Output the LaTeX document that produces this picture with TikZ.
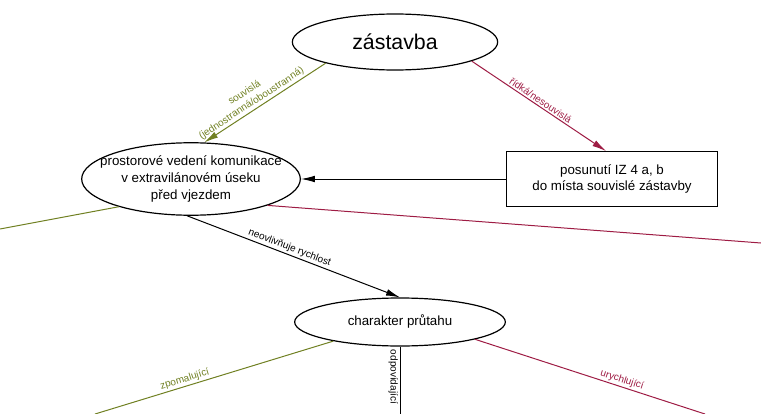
\documentclass[tikz,border=0pt]{standalone}
\usepackage{fontspec}
\setmainfont{Liberation Sans}
\usetikzlibrary{shapes.geometric,arrows.meta}
\definecolor{mossgreen}{RGB}{112,128,34}
\definecolor{wine}{RGB}{158,28,68}

\begin{document}
\begin{tikzpicture}[x=0.75pt,y=-0.75pt,
	bubble/.style={ellipse,draw,line width=0.9pt,font=\fontsize{10}{12.5}\selectfont,align=center},
	plate/.style={rectangle,draw,line width=0.9pt,font=\fontsize{10}{12}\selectfont,align=center,minimum width=158pt,minimum height=41pt},
	link/.style={line width=0.75pt},
	arrowed/.style={-{Latex[length=10.5pt,width=5pt]}},
	tag/.style={font=\fontsize{7.5}{9.5}\selectfont,sloped,above,inner sep=1.2pt}]
	\useasboundingbox (0,0) rectangle (761,414);
	% nodes
	\node[bubble,minimum width=154pt,minimum height=42pt,font=\fontsize{16}{19}\selectfont] (zastavba) at (395,42) {zástavba};
	\node[bubble,minimum width=164pt,minimum height=54pt,inner xsep=-11pt,inner ysep=2pt] (vedeni) at (191,179) {prostorové vedení komunikace\\ v extravilánovém úseku\\ před vjezdem};
	\node[plate] (posun) at (612,179) {posunutí IZ 4 a, b\\ do místa souvislé zástavby};
	\node[bubble,minimum width=158pt,minimum height=36pt] (prutah) at (400,322) {charakter průtahu};
	% loose ends at the border
	\coordinate (westend) at (0,229);
	\coordinate (eastend) at (761,243);
	\coordinate (slowend) at (95,414);
	\coordinate (sameend) at (400,414);
	\coordinate (fastend) at (705,414);
	% connectors
	\path[link]
	(zastavba.197) edge[mossgreen,arrowed] node[tag,align=center,pos=0.58] {souvislá\\(jednostranná/oboustranná)} (vedeni.70)
	(zastavba.-14) edge[wine,arrowed] node[tag,pos=0.49] {řídká/nesouvislá} ([xshift=-4.5pt]posun.north)
	(posun.west) edge[arrowed] (vedeni.east)
	(westend) edge[mossgreen] (vedeni.201)
	(vedeni.-19) edge[wine] (eastend)
	(vedeni.-96) edge[arrowed] node[tag,pos=0.47] {neovlivňuje rychlost} (prutah.north)
	(slowend) edge[mossgreen] node[tag,pos=0.385] {zpomalující} (prutah.196)
	(prutah.south) edge node[tag,below,pos=0.45] {odpovídající} (sameend)
	(prutah.-13) edge[wine] node[tag,pos=0.63] {urychlující} (fastend);
\end{tikzpicture}
\end{document}
